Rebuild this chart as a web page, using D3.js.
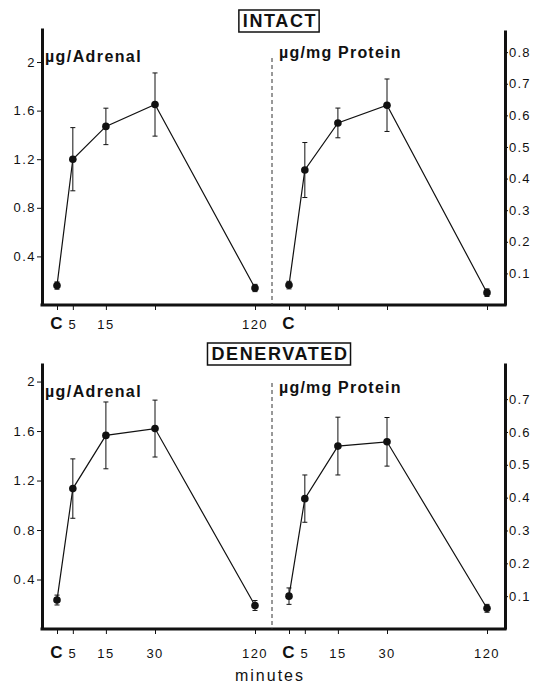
<!DOCTYPE html>
<html>
<head>
<meta charset="utf-8">
<script src="https://cdn.jsdelivr.net/npm/d3@7"></script>
<style>
  body { margin: 0; background: #fff; }
  svg { display: block; font-family: "Liberation Sans", Arial, sans-serif; }
</style>
</head>
<body>
<div id="chart"></div>
<script>
'use strict'

// time points (C = control, plotted at 0)
const times = [0, 5, 15, 30, 120]
const timeLabels = ["C", "5", "15", "30", "120"]

// intact adrenals
const intactAdrenal = [0.16, 1.20, 1.47, 1.65, 0.14]
const intactAdrenalErr = [0.03, 0.26, 0.15, 0.26, 0.03]
const intactProtein = [0.063, 0.427, 0.576, 0.632, 0.039]
const intactProteinErr = [0.012, 0.087, 0.047, 0.083, 0.012]

// denervated adrenals
const denervAdrenal = [0.234, 1.135, 1.565, 1.62, 0.19]
const denervAdrenalErr = [0.04, 0.24, 0.27, 0.23, 0.04]
const denervProtein = [0.10, 0.397, 0.557, 0.57, 0.063]
const denervProteinErr = [0.025, 0.072, 0.088, 0.074, 0.012]

// axis ticks
const adrenalTicks = [0.4, 0.8, 1.2, 1.6, 2]
const intactProteinTicks = [0.1, 0.2, 0.3, 0.4, 0.5, 0.6, 0.7, 0.8]
const denervProteinTicks = [0.1, 0.2, 0.3, 0.4, 0.5, 0.6, 0.7]

// which x labels survived in the top row of the print
const topLeftLabels = ["C", "5", "15", "", "120"]
const topRightLabels = ["C", "", "", "", ""]

////////////////////////////////////
//////////// svg setup /////////////
////////////////////////////////////

const width = 539, height = 686
const svg = d3.select('#chart').append('svg')
    .attr('width', width)
    .attr('height', height)

const ink = '#111'

// x positions of the time points as a fraction of the C..120 span
const xFrac = [0, 0.08, 0.247, 0.495, 1]

const rows = [
    {
        title: 'INTACT', titleY: 21, top: 28, bottom: 305, dashTop: 58, labelY: 329,
        left: { vals: intactAdrenal, err: intactAdrenalErr, max: 2.28, ticks: adrenalTicks, xl: topLeftLabels },
        right: { vals: intactProtein, err: intactProteinErr, max: 0.87, top: 30, ticks: intactProteinTicks, xl: topRightLabels }
    },
    {
        title: 'DENERVATED', titleY: 354, top: 363, bottom: 629, dashTop: 383, labelY: 658,
        left: { vals: denervAdrenal, err: denervAdrenalErr, max: 2.15, ticks: adrenalTicks, xl: timeLabels },
        right: { vals: denervProtein, err: denervProteinErr, max: 0.81, top: 363, ticks: denervProteinTicks, xl: timeLabels }
    }
]

const axisL = 42, divider = 272, axisR = 505

rows.forEach(row => {

    const g = svg.append('g')

    // left & right y scales
    const yL = d3.scaleLinear().domain([0, row.left.max]).range([row.bottom, row.top])
    const yR = d3.scaleLinear().domain([0, row.right.max]).range([row.bottom, row.right.top])

    // x scales: one per half
    const xL = d3.scaleLinear().domain(times).range(xFrac.map(f => 57 + f * (255 - 57)))
    const xR = d3.scaleLinear().domain(times).range(xFrac.map(f => 289 + f * (487 - 289)))

    // title box
    const title = g.append('text')
        .attr('x', 280).attr('y', row.titleY + 6)
        .attr('text-anchor', 'middle')
        .style('font-size', '18px')
        .style('font-weight', 'bold')
        .style('letter-spacing', '1.6px')
        .attr('fill', ink)
        .text(row.title)
    const bb = title.node().getBBox()
    g.append('rect')
        .attr('x', bb.x - 4).attr('y', row.titleY - 11)
        .attr('width', bb.width + 6).attr('height', 22)
        .attr('fill', 'none').attr('stroke', ink).attr('stroke-width', 1.5)

    // left axis
    const la = g.append('g')
        .attr('transform', `translate(${axisL},0)`)
        .call(d3.axisLeft(yL).tickValues(row.left.ticks).tickSize(5).tickSizeOuter(0).tickPadding(1)
            .tickFormat(d => d === 2 ? '2' : d3.format('.1f')(d)))
    la.select('.domain').attr('stroke', ink).attr('stroke-width', 3)
    la.selectAll('.tick line').attr('stroke', ink)
    la.selectAll('.tick text').attr('fill', ink).style('font-size', '13px').style('letter-spacing', '1.5px')

    // right axis
    const ra = g.append('g')
        .attr('transform', `translate(${axisR},0)`)
        .call(d3.axisRight(yR).tickValues(row.right.ticks).tickSize(3).tickSizeOuter(0).tickPadding(1)
            .tickFormat(d3.format('.1f')))
    ra.select('.domain').attr('stroke', ink).attr('stroke-width', 3)
    ra.selectAll('.tick line').attr('stroke', ink)
    ra.selectAll('.tick text').attr('fill', ink).style('font-size', '13px').style('letter-spacing', '1.2px')

    // baseline across both halves
    g.append('line')
        .attr('x1', axisL - 1.5).attr('x2', axisR + 1.5)
        .attr('y1', row.bottom).attr('y2', row.bottom)
        .attr('stroke', ink).attr('stroke-width', 3)

    // dashed divider
    g.append('line')
        .attr('x1', divider).attr('x2', divider)
        .attr('y1', row.dashTop).attr('y2', row.bottom)
        .attr('stroke', '#333').attr('stroke-width', 1)
        .attr('stroke-dasharray', '4,3')

    // unit labels
    g.append('text')
        .attr('x', 45).attr('y', row.top + 34)
        .style('font-size', '16px').style('font-weight', 'bold').style('letter-spacing', '1.4px')
        .attr('fill', ink)
        .text('µg/Adrenal')
    g.append('text')
        .attr('x', 279).attr('y', row.top + 30)
        .style('font-size', '16px').style('font-weight', 'bold').style('letter-spacing', '1.2px')
        .attr('fill', ink)
        .text('µg/mg Protein')

    // one half of the panel: x ticks, labels, error bars, line, dots
    function half(x, y, s) {
        const data = times.map((t, i) => ({ t: t, v: s.vals[i], e: s.err[i], lab: s.xl[i] }))

        const xa = g.append('g')
            .attr('transform', `translate(0,${row.bottom})`)
            .call(d3.axisBottom(x).tickValues(times).tickSize(5).tickFormat(''))
        xa.select('.domain').remove()
        xa.selectAll('.tick line').attr('stroke', ink)

        g.selectAll(null)
            .data(data)
            .join('text')
            .attr('x', d => x(d.t))
            .attr('y', row.labelY)
            .attr('text-anchor', 'middle')
            .attr('fill', ink)
            .style('font-size', d => d.lab === 'C' ? '17px' : '13px')
            .style('font-weight', d => d.lab === 'C' ? 'bold' : 'normal')
            .style('letter-spacing', '1.4px')
            .text(d => d.lab)

        // error bars
        const eb = g.selectAll(null).data(data).join('g').attr('stroke', ink).attr('stroke-width', 1)
        eb.append('line')
            .attr('x1', d => x(d.t)).attr('x2', d => x(d.t))
            .attr('y1', d => y(d.v - d.e)).attr('y2', d => y(d.v + d.e))
        eb.append('line')
            .attr('x1', d => x(d.t) - 2.5).attr('x2', d => x(d.t) + 2.5)
            .attr('y1', d => y(d.v + d.e)).attr('y2', d => y(d.v + d.e))
        eb.append('line')
            .attr('x1', d => x(d.t) - 2.5).attr('x2', d => x(d.t) + 2.5)
            .attr('y1', d => y(d.v - d.e)).attr('y2', d => y(d.v - d.e))

        g.append('path')
            .datum(data)
            .attr('fill', 'none').attr('stroke', ink).attr('stroke-width', 1.2)
            .attr('d', d3.line().x(d => x(d.t)).y(d => y(d.v)))

        g.selectAll(null)
            .data(data)
            .join('circle')
            .attr('cx', d => x(d.t)).attr('cy', d => y(d.v))
            .attr('r', 3.8)
            .attr('fill', ink)
    }

    half(xL, yL, row.left)
    half(xR, yR, row.right)
})

// x axis title
svg.append('text')
    .attr('x', 270).attr('y', 681)
    .attr('text-anchor', 'middle')
    .style('font-size', '16px')
    .style('letter-spacing', '2px')
    .attr('fill', ink)
    .text('minutes')
</script>
</body>
</html>
